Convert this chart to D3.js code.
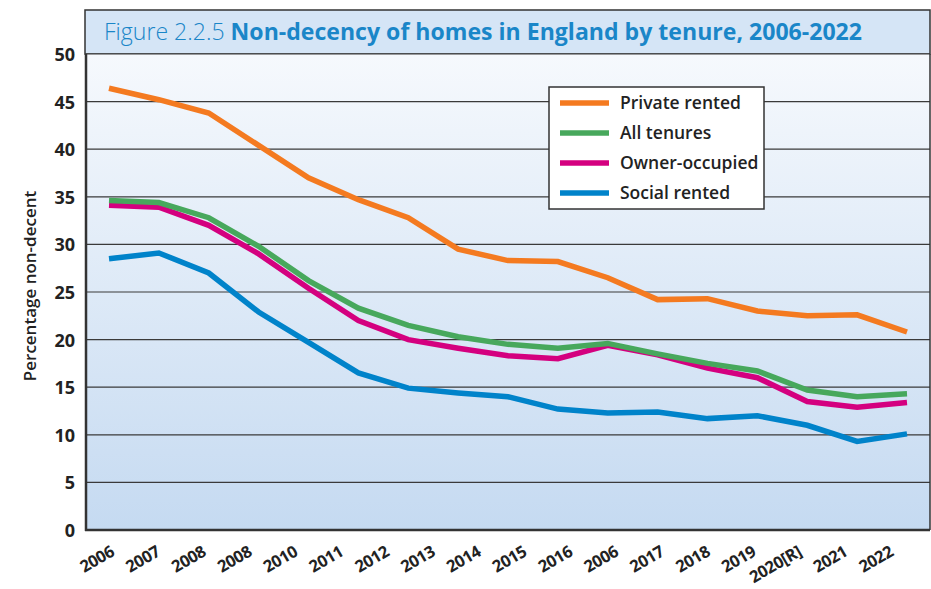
<!DOCTYPE html>
<html><head><meta charset="utf-8">
<script src="https://cdn.jsdelivr.net/npm/d3@7"></script>
<style>
body{margin:0;background:#fff;}
svg{display:block;font-family:"Open Sans",sans-serif;}
</style></head>
<body>
<svg id="c" width="931" height="589"></svg>
<script>
// ---- data ----
const years = ["2006","2007","2008","2009","2010","2011","2012","2013","2014","2015","2016","2017","2018","2019","2020","2021","2022"];
const tickLabels = ["2006","2007","2008","2008","2010","2011","2012","2013","2014","2015","2016","2006","2017","2018","2019","2020[R]","2021","2022"];
const privateRented = [46.4,45.2,43.8,40.4,37.0,34.7,32.8,29.5,28.3,28.2,26.5,24.2,24.3,23.0,22.5,22.6,20.8];
const allTenures    = [34.6,34.4,32.8,29.8,26.2,23.3,21.5,20.3,19.5,19.1,19.6,18.5,17.5,16.7,14.7,14.0,14.3];
const ownerOccupied = [34.1,33.9,32.0,29.0,25.4,22.0,20.0,19.1,18.3,18.0,19.4,18.4,17.0,16.0,13.5,12.9,13.4];
const socialRented  = [28.5,29.1,27.0,22.9,19.7,16.5,14.9,14.4,14.0,12.7,12.3,12.4,11.7,12.0,11.0,9.3,10.1];
const yTicks = [0,5,10,15,20,25,30,35,40,45,50];
const seriesNames = ["Private rented","All tenures","Owner-occupied","Social rented"];
const seriesColors = ["#F47A20","#47A85C","#D4007F","#0083CA"];

const series = [
  {name:seriesNames[0], color:seriesColors[0], values:privateRented},
  {name:seriesNames[1], color:seriesColors[1], values:allTenures},
  {name:seriesNames[2], color:seriesColors[2], values:ownerOccupied},
  {name:seriesNames[3], color:seriesColors[3], values:socialRented}
];

const svg = d3.select("#c");
const L = 86, R = 930, T = 54, B = 530;

// background gradient
const defs = svg.append("defs");
const g1 = defs.append("linearGradient").attr("id","bg").attr("x1",0).attr("y1",0).attr("x2",0).attr("y2",1);
g1.append("stop").attr("offset","0%").attr("stop-color","#F6F9FD");
g1.append("stop").attr("offset","100%").attr("stop-color","#C5DAF1");

// frame & title band
svg.append("rect").attr("x",85).attr("y",10).attr("width",R-85).attr("height",T-10)
  .attr("fill","#D5E5F6").attr("stroke","#333").attr("stroke-width",1.5);
svg.append("rect").attr("x",L).attr("y",T).attr("width",R-L).attr("height",B-T)
  .attr("fill","url(#bg)");

const title = svg.append("text").attr("x",104).attr("y",40)
  .attr("font-size",23).attr("fill","#1A86C8").style("font-family","'Open Sans',sans-serif")
  .attr("textLength",758).attr("lengthAdjust","spacingAndGlyphs");
title.append("tspan").attr("font-weight",300).text("Figure 2.2.5 ");
title.append("tspan").attr("font-weight",700).text("Non-decency of homes in England by tenure, 2006-2022");

const y = d3.scaleLinear().domain([0,50]).range([B,T]);
const x = d3.scalePoint().domain(years).range([109,907]);
const xl = d3.scalePoint().domain(d3.range(tickLabels.length)).range([118,897]);

// gridlines
svg.append("g").selectAll("line").data(yTicks.filter(d=>d>0)).join("line")
  .attr("x1",L).attr("x2",R).attr("y1",d=>y(d)).attr("y2",d=>y(d))
  .attr("stroke","#3a3a3a").attr("stroke-width",1.2);

// y axis
const ya = svg.append("g").attr("transform",`translate(${L},0)`)
  .call(d3.axisLeft(y).tickValues(yTicks).tickSize(0).tickPadding(11));
ya.select(".domain").remove();
ya.selectAll("text").attr("font-size",18).attr("font-weight",700).attr("fill","#222")
  .style("font-family","'Open Sans',sans-serif").attr("dy","0.36em");

// x axis labels
const xa = svg.append("g").attr("transform",`translate(0,${B})`)
  .call(d3.axisBottom(xl).tickFormat(i=>tickLabels[i]).tickSize(0));
xa.select(".domain").remove();
xa.selectAll("text").attr("font-size",16.5).attr("font-weight",700).attr("fill","#222")
  .attr("letter-spacing",-0.4)
  .style("font-family","'Open Sans',sans-serif")
  .attr("text-anchor","end").attr("dy",0).attr("y",0)
  .attr("transform","translate(-3,25) rotate(-30)");

// axis lines
svg.append("line").attr("x1",L).attr("x2",L).attr("y1",T).attr("y2",B+1).attr("stroke","#333").attr("stroke-width",2.5);
svg.append("line").attr("x1",L-1).attr("x2",R).attr("y1",B).attr("y2",B).attr("stroke","#333").attr("stroke-width",2.5);
svg.append("line").attr("x1",R).attr("x2",R).attr("y1",T).attr("y2",B).attr("stroke","#333").attr("stroke-width",1.5);

// y title
svg.append("text").attr("transform","translate(36,286) rotate(-90)")
  .attr("text-anchor","middle").attr("font-size",17).attr("font-weight",600).attr("fill","#222")
  .style("font-family","'Open Sans',sans-serif")
  .text("Percentage non-decent");

// lines
const line = d3.line().x((d,i)=>x(years[i])).y(d=>y(d));
const drawOrder = [3,2,1,0];
svg.append("g").selectAll("path").data(drawOrder.map(i=>series[i])).join("path")
  .attr("d",d=>line(d.values)).attr("fill","none").attr("stroke",d=>d.color)
  .attr("stroke-width",5.5).attr("stroke-linejoin","miter");

// legend
const lg = svg.append("g");
lg.append("rect").attr("x",549).attr("y",87).attr("width",215).attr("height",122)
  .attr("fill","#fff").attr("stroke","#333").attr("stroke-width",1.5);
const ly = d3.scalePoint().domain(seriesNames).range([103,193]);
const items = lg.selectAll("g.it").data(series).join("g").attr("class","it");
items.append("line").attr("x1",560).attr("x2",609).attr("y1",d=>ly(d.name)).attr("y2",d=>ly(d.name))
  .attr("stroke",d=>d.color).attr("stroke-width",5.5);
items.append("text").attr("x",620).attr("y",d=>ly(d.name)+6).attr("font-size",17.5).attr("font-weight",600)
  .attr("fill","#222").style("font-family","'Open Sans',sans-serif").text(d=>d.name);
</script>
</body></html>
